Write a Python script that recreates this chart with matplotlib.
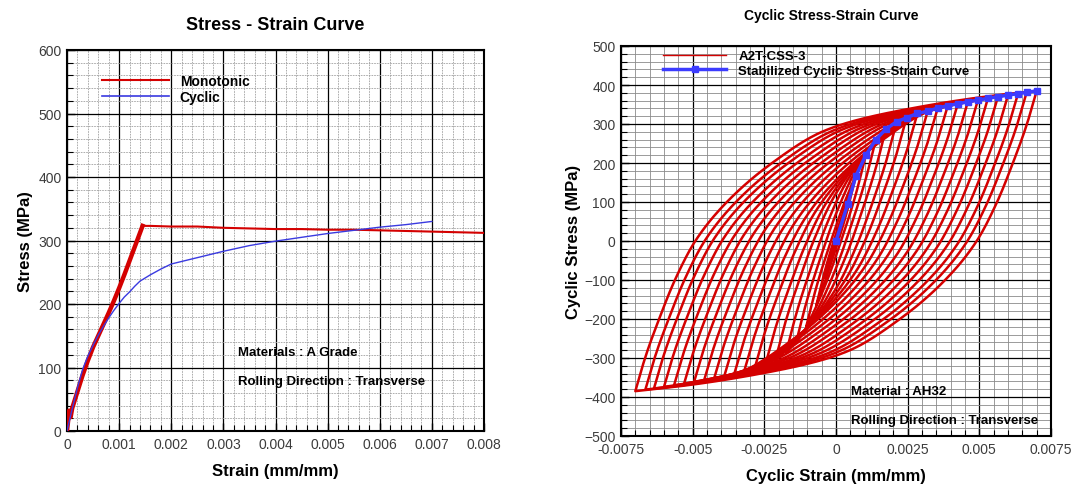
import numpy as np
import matplotlib
matplotlib.use("Agg")
import matplotlib.pyplot as plt
from matplotlib.ticker import MultipleLocator, FixedLocator
from matplotlib.lines import Line2D

plt.rcParams['font.family'] = ['Liberation Sans', 'DejaVu Sans']

# ---------------- Left chart data ----------------
mono_strain = [0, 0.00002, 0.00004, 0.00007, 0.0001, 0.0002, 0.0003, 0.0004, 0.0005,
               0.0006, 0.0007, 0.0008, 0.0009, 0.001, 0.0011, 0.0012, 0.0013, 0.0014,
               0.00145, 0.0016, 0.002, 0.0025, 0.003, 0.0035, 0.004, 0.0045, 0.005,
               0.0055, 0.006, 0.0065, 0.007, 0.0075, 0.008]
mono_stress = [0, 15, 32, 22, 36, 62, 88, 111, 132,
               150, 168, 186, 205, 225, 246, 268, 290, 312,
               323, 323, 322, 322, 320, 319, 318, 318, 317,
               317, 316, 315, 314, 313, 312]
cyc_strain = [0, 0.0001, 0.0002, 0.0003, 0.0004, 0.0005, 0.0006, 0.0007, 0.0008,
              0.0009, 0.001, 0.0011, 0.0012, 0.0013, 0.0014, 0.0016, 0.0018, 0.002,
              0.0025, 0.003, 0.0035, 0.004, 0.0045, 0.005, 0.0055, 0.006, 0.0065, 0.007]
cyc_stress = [0, 35, 68, 97, 118, 135, 151, 165, 178,
              190, 201, 211, 219, 228, 236, 246, 255, 263,
              273, 283, 292, 299, 305, 311, 316, 321, 325, 330]
left_xticks = [0, 0.001, 0.002, 0.003, 0.004, 0.005, 0.006, 0.007, 0.008]
left_xticklabels = ['0', '0.001', '0.002', '0.003', '0.004', '0.005', '0.006', '0.007', '0.008']
left_yticks = [0, 100, 200, 300, 400, 500, 600]

# ---------------- Right chart data ----------------
# stabilized cyclic stress-strain curve (its points are the loop tips)
css_strain = [0, 0.00041, 0.00069, 0.00104, 0.00139, 0.00174, 0.00212, 0.00246, 0.00284,
              0.0032, 0.00355, 0.0039, 0.00425, 0.0046, 0.00495, 0.0053, 0.00565,
              0.006, 0.00635, 0.00665, 0.007]
css_stress = [0, 95, 166, 220, 260, 287, 306, 316, 327,
              333, 341, 347, 352, 357, 361, 366, 370,
              374, 378, 381, 385]
# outer loop branch: strain range / stress range from the reversal tip
branch_dstrain = [0, 0.00035, 0.00084, 0.00139, 0.0021, 0.0032, 0.00477, 0.0065,
                  0.0076, 0.0095, 0.012, 0.014]
branch_dstress = [0, 88, 188, 288, 388, 488, 588, 668,
                  696, 727, 757, 774]
right_xticks = [-0.0075, -0.005, -0.0025, 0, 0.0025, 0.005, 0.0075]
right_xticklabels = ['-0.0075', '-0.005', '-0.0025', '0', '0.0025', '0.005', '0.0075']
right_yticks = [-500, -400, -300, -200, -100, 0, 100, 200, 300, 400, 500]

RED = '#d40000'
BLUE_L = '#3a3ae0'
BLUE_R = '#3c3cff'
TICKC = '#3c3c3c'


def pchip(x, y, xn):
    """Monotone cubic curve through the read points."""
    x = np.asarray(x, float)
    y = np.asarray(y, float)
    h = np.diff(x)
    delta = np.diff(y) / h
    d = np.zeros_like(y)
    for k in range(1, len(x) - 1):
        if delta[k - 1] * delta[k] > 0:
            w1 = 2 * h[k] + h[k - 1]
            w2 = h[k] + 2 * h[k - 1]
            d[k] = (w1 + w2) / (w1 / delta[k - 1] + w2 / delta[k])
    d[0] = delta[0]
    d[-1] = delta[-1]
    xn = np.clip(np.asarray(xn, float), x[0], x[-1])
    idx = np.clip(np.searchsorted(x, xn) - 1, 0, len(x) - 2)
    t = (xn - x[idx]) / h[idx]
    h00 = 2 * t**3 - 3 * t**2 + 1
    h10 = t**3 - 2 * t**2 + t
    h01 = -2 * t**3 + 3 * t**2
    h11 = t**3 - t**2
    return (h00 * y[idx] + h10 * h[idx] * d[idx] + h01 * y[idx + 1]
            + h11 * h[idx] * d[idx + 1])


fig = plt.figure(figsize=(10.8, 4.89), dpi=100)


def style_axes(ax, minor_ls, minor_c):
    for s in ax.spines.values():
        s.set_linewidth(1.5)
        s.set_color('black')
    ax.tick_params(which='major', direction='in', length=6, width=1.0,
                   labelsize=10, labelcolor=TICKC, pad=4)
    ax.tick_params(which='minor', direction='in', length=4, width=0.8)
    ax.grid(which='major', color='black', linewidth=0.9, zorder=0)
    ax.grid(which='minor', color=minor_c, linewidth=0.6, linestyle=minor_ls, zorder=0)
    ax.set_axisbelow(True)


# ---------------- Left axes ----------------
axL = fig.add_axes([67/1080, 1-432/489, 417/1080, 381/489])
axL.plot(mono_strain, mono_stress, color=RED, lw=1.5, zorder=3)
axL.plot(mono_strain[:19], mono_stress[:19], color=RED, lw=3.2, zorder=3,
         solid_joinstyle='round')
axL.plot(cyc_strain, cyc_stress, color=BLUE_L, lw=1.0, zorder=4)
axL.set_xlim(0, 0.008)
axL.set_ylim(0, 600)
axL.xaxis.set_major_locator(FixedLocator(left_xticks))
axL.set_xticklabels(left_xticklabels)
axL.yaxis.set_major_locator(FixedLocator(left_yticks))
axL.xaxis.set_minor_locator(MultipleLocator(0.0002))
axL.yaxis.set_minor_locator(MultipleLocator(20))
style_axes(axL, (0, (2, 1.2)), '#a0a0a0')
axL.set_title('Stress - Strain Curve', fontsize=13, fontweight='bold', pad=15)
axL.set_xlabel('Strain (mm/mm)', fontsize=12, fontweight='bold', labelpad=9)
axL.set_ylabel('Stress (MPa)', fontsize=12, fontweight='bold', labelpad=4)
hL = [Line2D([0], [0], color=RED, lw=1.5), Line2D([0], [0], color=BLUE_L, lw=1.2)]
axL.legend(hL, ['Monotonic', 'Cyclic'], loc='upper left', bbox_to_anchor=(0.084, 0.937),
           frameon=False, borderpad=0, borderaxespad=0, handlelength=4.8,
           handletextpad=0.8, labelspacing=0.15, prop={'size': 10, 'weight': 'bold'})
axL.text(0.41, 0.208, 'Materials : A Grade', transform=axL.transAxes, fontsize=9.5,
         fontweight='bold', va='center', ha='left')
axL.text(0.41, 0.13, 'Rolling Direction : Transverse', transform=axL.transAxes,
         fontsize=9.5, fontweight='bold', va='center', ha='left')

# ---------------- Right axes ----------------
axR = fig.add_axes([621/1080, 1-437/489, 430/1080, 390/489])
cs = np.array(css_strain)
cst = np.array(css_stress)
for a, s in zip(cs[1:], cst[1:]):
    t = np.linspace(0, 2 * a, 200)
    br = pchip(branch_dstrain, branch_dstress, t)
    br = br * (2 * s) / pchip(branch_dstrain, branch_dstress, [2 * a])[0]
    eps = np.concatenate([a - t, -a + t])
    sig = np.concatenate([s - br, -s + br])
    axR.plot(eps, sig, color=RED, lw=1.8, zorder=3, solid_joinstyle='round')
axR.plot(css_strain, css_stress, color=BLUE_R, lw=2.5, marker='s', ms=5,
         markeredgecolor=BLUE_R, zorder=5)
axR.set_xlim(-0.0075, 0.0075)
axR.set_ylim(-500, 500)
axR.xaxis.set_major_locator(FixedLocator(right_xticks))
axR.set_xticklabels(right_xticklabels)
axR.yaxis.set_major_locator(FixedLocator(right_yticks))
axR.xaxis.set_minor_locator(MultipleLocator(0.0005))
axR.yaxis.set_minor_locator(MultipleLocator(20))
style_axes(axR, '-', '#8a8a8a')
axR.set_xlabel('Cyclic Strain (mm/mm)', fontsize=12, fontweight='bold', labelpad=9)
axR.set_ylabel('Cyclic Stress (MPa)', fontsize=12, fontweight='bold', labelpad=2)
fig.text(831/1080, 1-16/489, 'Cyclic Stress-Strain Curve', fontsize=10,
         fontweight='bold', ha='center', va='center')
hR = [Line2D([0], [0], color=RED, lw=1.0),
      Line2D([0], [0], color=BLUE_R, lw=2.5, marker='s', ms=5)]
axR.legend(hR, ['A2T-CSS-3', 'Stabilized Cyclic Stress-Strain Curve'], loc='upper left',
           bbox_to_anchor=(0.098, 0.99), frameon=False, borderpad=0, borderaxespad=0,
           handlelength=4.8, handletextpad=0.9, labelspacing=0.2,
           prop={'size': 9.5, 'weight': 'bold'})
axR.text(0.535, 0.115, 'Material : AH32', transform=axR.transAxes, fontsize=9.5,
         fontweight='bold', va='center', ha='left')
axR.text(0.535, 0.04, 'Rolling Direction : Transverse', transform=axR.transAxes,
         fontsize=9.5, fontweight='bold', va='center', ha='left')

fig.savefig('out.png', dpi=100)
